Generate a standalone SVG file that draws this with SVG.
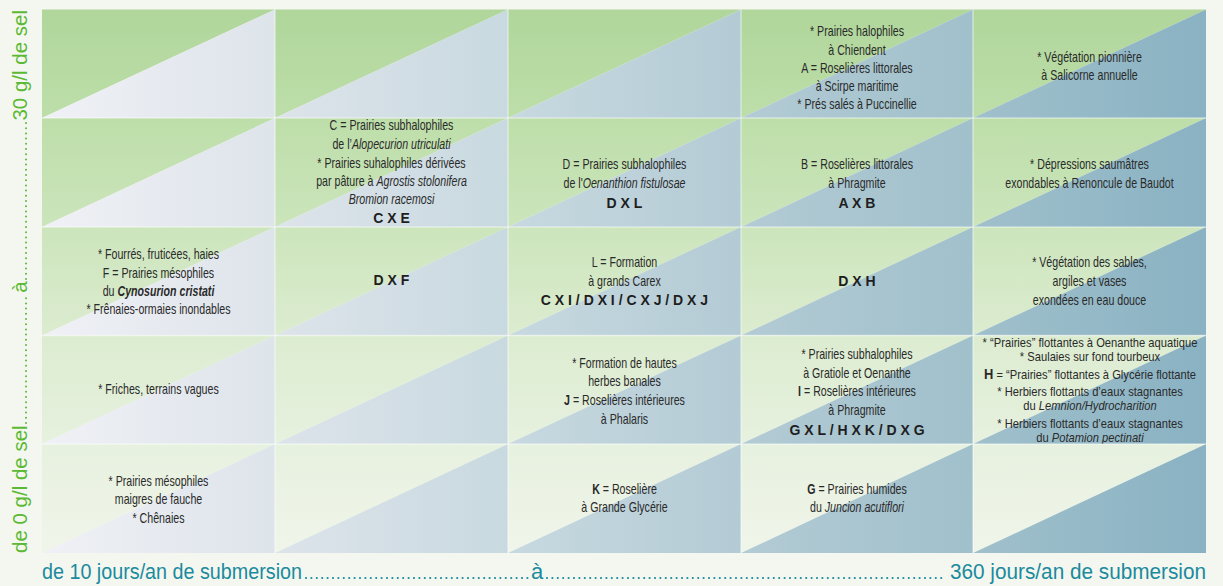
<svg xmlns="http://www.w3.org/2000/svg" width="1223" height="586" viewBox="0 0 1223 586">
<defs>
<linearGradient id="gg" gradientUnits="userSpaceOnUse" x1="0" y1="9.5" x2="0" y2="553">
<stop offset="0" stop-color="#b0d69b"/><stop offset="0.2" stop-color="#bddea9"/><stop offset="0.4" stop-color="#cce5bc"/><stop offset="0.6" stop-color="#dcecd0"/><stop offset="0.8" stop-color="#e7f1df"/><stop offset="1" stop-color="#f0f5ea"/>
</linearGradient>
<linearGradient id="bb" gradientUnits="userSpaceOnUse" x1="42" y1="0" x2="1206" y2="0">
<stop offset="0" stop-color="#f0f1f6"/><stop offset="0.2" stop-color="#dde4ea"/><stop offset="0.4" stop-color="#c8d9e0"/><stop offset="0.6" stop-color="#b3cbd5"/><stop offset="0.8" stop-color="#a0c0cb"/><stop offset="1" stop-color="#8ab2c3"/>
</linearGradient>
<style>
.g{fill:url(#gg)}
.b{fill:url(#bb)}
.t{font-family:"Liberation Sans",Arial,sans-serif;font-size:14px;fill:#2a2a2a;text-anchor:middle}
.s{font-size:13px}
.c{font-family:"Liberation Sans",Arial,sans-serif;font-size:14px;font-weight:bold;fill:#1e1e1e;text-anchor:middle}
.i{font-style:italic}
.bd{font-weight:bold}
.sep{stroke:#ffffff;stroke-opacity:0.45;stroke-width:1.5}
.ya{font-family:"Liberation Sans",Arial,sans-serif;font-size:20.5px;fill:#5cb935}
.xa{font-family:"Liberation Sans",Arial,sans-serif;font-size:22px;fill:#1b8a9e}
.gd{stroke:#5cb935;stroke-width:2;stroke-linecap:round;stroke-dasharray:0 5.2;fill:none}
.td{stroke:#1b8a9e;stroke-width:2.2;stroke-linecap:round;stroke-dasharray:0 5.4;fill:none}
</style>
</defs>
<rect x="0" y="0" width="1223" height="586" fill="#f4f7ef"/>

<g id="cell-r1c1"><polygon class="g" points="42,9.5 275,9.5 42,118"/><polygon class="b" points="275,9.5 275,118 42,118"/></g>
<g id="cell-r1c2"><polygon class="g" points="275,9.5 508,9.5 275,118"/><polygon class="b" points="508,9.5 508,118 275,118"/></g>
<g id="cell-r1c3"><polygon class="g" points="508,9.5 741,9.5 508,118"/><polygon class="b" points="741,9.5 741,118 508,118"/></g>
<g id="cell-r1c4"><polygon class="g" points="741,9.5 973,9.5 741,118"/><polygon class="b" points="973,9.5 973,118 741,118"/>
<g transform="translate(857,0) scale(0.76,1)"><text class="t" x="0" y="36.5">* Prairies halophiles</text><text class="t" x="0" y="54.8">à Chiendent</text><text class="t" x="0" y="73">A = Roselières littorales</text><text class="t" x="0" y="91.3">à Scirpe maritime</text><text class="t" x="0" y="109.5">* Prés salés à Puccinellie</text></g></g>
<g id="cell-r1c5"><polygon class="g" points="973,9.5 1206,9.5 973,118"/><polygon class="b" points="1206,9.5 1206,118 973,118"/>
<g transform="translate(1089.5,0) scale(0.76,1)"><text class="t" x="0" y="62.5">* Végétation pionnière</text><text class="t" x="0" y="80.5">à Salicorne annuelle</text></g></g>

<g id="cell-r2c1"><polygon class="g" points="42,118 275,118 42,227"/><polygon class="b" points="275,118 275,227 42,227"/></g>
<g id="cell-r2c2"><polygon class="g" points="275,118 508,118 275,227"/><polygon class="b" points="508,118 508,227 275,227"/>
<g transform="translate(391.5,0) scale(0.76,1)"><text class="t" x="0" y="130.5">C = Prairies subhalophiles</text><text class="t" x="0" y="149.5">de l’<tspan class="i">Alopecurion utriculati</tspan></text><text class="t" x="0" y="168">* Prairies suhalophiles dérivées</text><text class="t" x="0" y="186">par pâture à <tspan class="i">Agrostis stolonifera</tspan></text><text class="t i" x="0" y="204.5">Bromion racemosi</text></g>
<text class="c" x="391.5" y="223.3">C X E</text></g>
<g id="cell-r2c3"><polygon class="g" points="508,118 741,118 508,227"/><polygon class="b" points="741,118 741,227 508,227"/>
<g transform="translate(624.5,0) scale(0.76,1)"><text class="t" x="0" y="169.5">D = Prairies subhalophiles</text><text class="t" x="0" y="188">de l'<tspan class="i">Oenanthion fistulosae</tspan></text></g>
<text class="c" x="624.5" y="207.7">D X L</text></g>
<g id="cell-r2c4"><polygon class="g" points="741,118 973,118 741,227"/><polygon class="b" points="973,118 973,227 741,227"/>
<g transform="translate(857,0) scale(0.76,1)"><text class="t" x="0" y="169.5">B = Roselières littorales</text><text class="t" x="0" y="188">à Phragmite</text></g>
<text class="c" x="857" y="207.7">A X B</text></g>
<g id="cell-r2c5"><polygon class="g" points="973,118 1206,118 973,227"/><polygon class="b" points="1206,118 1206,227 973,227"/>
<g transform="translate(1089.5,0) scale(0.76,1)"><text class="t" x="0" y="169.5">* Dépressions saumâtres</text><text class="t" x="0" y="187.8">exondables à Renoncule de Baudot</text></g></g>

<g id="cell-r3c1"><polygon class="g" points="42,227 275,227 42,335.5"/><polygon class="b" points="275,227 275,335.5 42,335.5"/>
<g transform="translate(158.5,0) scale(0.76,1)"><text class="t" x="0" y="259.5">* Fourrés, fruticées, haies</text><text class="t" x="0" y="278">F = Prairies mésophiles</text><text class="t" x="0" y="296.3">du <tspan class="i bd">Cynosurion cristati</tspan></text><text class="t" x="0" y="314.5">* Frênaies-ormaies inondables</text></g></g>
<g id="cell-r3c2"><polygon class="g" points="275,227 508,227 275,335.5"/><polygon class="b" points="508,227 508,335.5 275,335.5"/>
<text class="c" x="391.5" y="285">D X F</text></g>
<g id="cell-r3c3"><polygon class="g" points="508,227 741,227 508,335.5"/><polygon class="b" points="741,227 741,335.5 508,335.5"/>
<g transform="translate(624.5,0) scale(0.76,1)"><text class="t" x="0" y="267.2">L = Formation</text><text class="t" x="0" y="286">à grands Carex</text></g>
<text class="c" x="624.5" y="305">C X I / D X I / C X J / D X J</text></g>
<g id="cell-r3c4"><polygon class="g" points="741,227 973,227 741,335.5"/><polygon class="b" points="973,227 973,335.5 741,335.5"/>
<text class="c" x="857" y="285.5">D X H</text></g>
<g id="cell-r3c5"><polygon class="g" points="973,227 1206,227 973,335.5"/><polygon class="b" points="1206,227 1206,335.5 973,335.5"/>
<g transform="translate(1089.5,0) scale(0.76,1)"><text class="t" x="0" y="267.2">* Végétation des sables,</text><text class="t" x="0" y="286">argiles et vases</text><text class="t" x="0" y="305.5">exondées en eau douce</text></g></g>

<g id="cell-r4c1"><polygon class="g" points="42,335.5 275,335.5 42,444"/><polygon class="b" points="275,335.5 275,444 42,444"/>
<g transform="translate(158.5,0) scale(0.76,1)"><text class="t" x="0" y="394">* Friches, terrains vagues</text></g></g>
<g id="cell-r4c2"><polygon class="g" points="275,335.5 508,335.5 275,444"/><polygon class="b" points="508,335.5 508,444 275,444"/></g>
<g id="cell-r4c3"><polygon class="g" points="508,335.5 741,335.5 508,444"/><polygon class="b" points="741,335.5 741,444 508,444"/>
<g transform="translate(624.5,0) scale(0.76,1)"><text class="t" x="0" y="368">* Formation de hautes</text><text class="t" x="0" y="386.3">herbes banales</text><text class="t" x="0" y="405.5"><tspan class="bd">J</tspan> = Roselières intérieures</text><text class="t" x="0" y="424">à Phalaris</text></g></g>
<g id="cell-r4c4"><polygon class="g" points="741,335.5 973,335.5 741,444"/><polygon class="b" points="973,335.5 973,444 741,444"/>
<g transform="translate(857,0) scale(0.76,1)"><text class="t" x="0" y="359.5">* Prairies subhalophiles</text><text class="t" x="0" y="378">à Gratiole et Oenanthe</text><text class="t" x="0" y="396.3"><tspan class="bd">I</tspan> = Roselières intérieures</text><text class="t" x="0" y="415.5">à Phragmite</text></g>
<text class="c" x="857" y="435">G X L / H X K / D X G</text></g>
<g id="cell-r4c5"><polygon class="g" points="973,335.5 1206,335.5 973,444"/><polygon class="b" points="1206,335.5 1206,444 973,444"/>
<g transform="translate(1090,0) scale(0.86,1)"><text class="t s" x="0" y="347">* “Prairies” flottantes à Oenanthe aquatique</text><text class="t s" x="0" y="361.5">* Saulaies sur fond tourbeux</text><text class="t s" x="0" y="379"><tspan class="bd" style="font-size:15px">H</tspan> = “Prairies” flottantes à Glycérie flottante</text><text class="t s" x="0" y="396">* Herbiers flottants d’eaux stagnantes</text><text class="t s" x="0" y="410.5">du <tspan class="i">Lemnion/Hydrocharition</tspan></text><text class="t s" x="0" y="428">* Herbiers flottants d’eaux stagnantes</text><text class="t s" x="0" y="442.5">du <tspan class="i">Potamion pectinati</tspan></text></g></g>

<g id="cell-r5c1"><polygon class="g" points="42,444 275,444 42,553"/><polygon class="b" points="275,444 275,553 42,553"/>
<g transform="translate(158.5,0) scale(0.76,1)"><text class="t" x="0" y="486">* Prairies mésophiles</text><text class="t" x="0" y="504.5">maigres de fauche</text><text class="t" x="0" y="523">* Chênaies</text></g></g>
<g id="cell-r5c2"><polygon class="g" points="275,444 508,444 275,553"/><polygon class="b" points="508,444 508,553 275,553"/></g>
<g id="cell-r5c3"><polygon class="g" points="508,444 741,444 508,553"/><polygon class="b" points="741,444 741,553 508,553"/>
<g transform="translate(624.5,0) scale(0.76,1)"><text class="t" x="0" y="494.5"><tspan class="bd">K</tspan> = Roselière</text><text class="t" x="0" y="512">à Grande Glycérie</text></g></g>
<g id="cell-r5c4"><polygon class="g" points="741,444 973,444 741,553"/><polygon class="b" points="973,444 973,553 741,553"/>
<g transform="translate(857,0) scale(0.76,1)"><text class="t" x="0" y="494.5"><tspan class="bd">G</tspan> = Prairies humides</text><text class="t" x="0" y="512">du <tspan class="i">Juncion acutiflori</tspan></text></g></g>
<g id="cell-r5c5"><polygon class="g" points="973,444 1206,444 973,553"/><polygon class="b" points="1206,444 1206,553 973,553"/></g>

<g id="grid-lines">
<line class="sep" x1="275" y1="9.5" x2="275" y2="553"/><line class="sep" x1="508" y1="9.5" x2="508" y2="553"/><line class="sep" x1="741" y1="9.5" x2="741" y2="553"/><line class="sep" x1="973" y1="9.5" x2="973" y2="553"/>
<line class="sep" x1="42" y1="118" x2="1206" y2="118"/><line class="sep" x1="42" y1="227" x2="1206" y2="227"/><line class="sep" x1="42" y1="335.5" x2="1206" y2="335.5"/><line class="sep" x1="42" y1="444" x2="1206" y2="444"/>
</g>

<g id="axis-salinity">
<text class="ya" transform="translate(27,553) rotate(-90)">de 0 g/l de sel</text>
<text class="ya" transform="translate(27,287) rotate(-90)" text-anchor="middle">à</text>
<text class="ya" transform="translate(27,10) rotate(-90)" text-anchor="end">30 g/l de sel</text>
<line class="gd" x1="26" y1="423" x2="26" y2="295"/>
<line class="gd" x1="26" y1="279" x2="26" y2="122"/>
</g>

<g id="axis-submersion">
<text class="xa" x="42" y="579" textLength="260" lengthAdjust="spacingAndGlyphs">de 10 jours/an de submersion</text>
<line class="td" x1="306" y1="578" x2="529" y2="578"/>
<text class="xa" x="537" y="579" text-anchor="middle">à</text>
<line class="td" x1="547" y1="578" x2="946" y2="578"/>
<text class="xa" x="1206" y="579" text-anchor="end" textLength="256" lengthAdjust="spacingAndGlyphs">360 jours/an de submersion</text>
</g>
</svg>
